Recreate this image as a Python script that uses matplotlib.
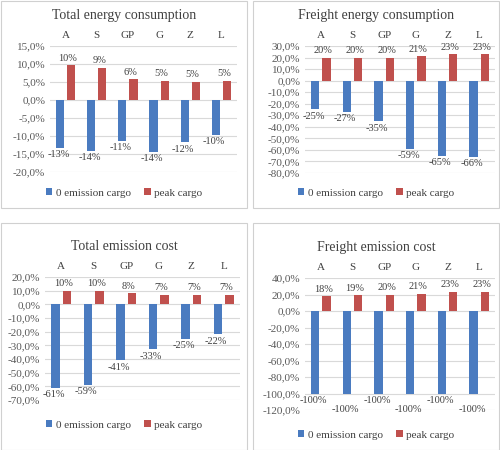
import matplotlib
matplotlib.use("Agg")
import matplotlib.pyplot as plt
from matplotlib.patches import Rectangle
from matplotlib.ticker import FuncFormatter
import numpy as np

plt.rcParams['font.family'] = ['Liberation Serif', 'DejaVu Serif']

categories = ["A", "S", "GP", "G", "Z", "L"]
series_names = ["0 emission cargo", "peak cargo"]

titles = ["Total energy consumption", "Freight energy consumption",
          "Total emission cost", "Freight emission cost"]
zero_vals = [
    [-13.3, -14.1, -11.3, -14.4, -11.8, -9.7],
    [-24.6, -27.0, -35.0, -59.0, -65.0, -66.0],
    [-61.0, -59.0, -41.0, -33.0, -25.0, -22.0],
    [-100, -100, -100, -100, -100, -100],
]
peak_vals = [
    [9.6, 8.9, 5.8, 5.3, 5.1, 5.3],
    [19.6, 20.0, 20.0, 21.0, 23.0, 23.0],
    [10.0, 10.0, 8.0, 7.0, 7.0, 7.0],
    [18.0, 19.0, 20.0, 21.0, 23.0, 23.0],
]
y_ranges = [(-20, 15, 5), (-80, 30, 10), (-70, 20, 10), (-120, 40, 20)]

BLUE = "#4a7bc0"
RED = "#c0504d"
W, H = 500, 450
fig = plt.figure(figsize=(W/100, H/100), dpi=100)

panels = [
    dict(box=(0, 0, 248, 208), plot=(50, 46, 237, 172), title_y=15, leg_y=193),
    dict(box=(252, 0, 500, 208), plot=(305, 46, 495, 173), title_y=15, leg_y=193),
    dict(box=(0, 222, 248, 450), plot=(45, 277, 240, 400), title_y=247, leg_y=425),
    dict(box=(252, 222, 500, 450), plot=(305, 278, 495, 410), title_y=247, leg_y=435),
]

fmt = FuncFormatter(lambda v, p: f"{v:.1f}%".replace(".", ","))
x = np.arange(len(categories))
bw = 0.26
for i, pn in enumerate(panels):
    bx0, by0, bx1, by1 = pn["box"]
    fig.patches.append(Rectangle((bx0/W + 0.001, 1 - by1/H + 0.001), (bx1-bx0)/W - 0.003, (by1-by0)/H - 0.003,
                                 transform=fig.transFigure, fill=False, edgecolor="#d0d0d0", lw=0.8))
    px0, py0, px1, py1 = pn["plot"]
    ax = fig.add_axes([px0/W, 1 - py1/H, (px1-px0)/W, (py1-py0)/H])
    lo, hi, st = y_ranges[i]
    ax.set_ylim(lo, hi)
    ax.set_yticks(np.arange(lo, hi + st/2, st))
    ax.yaxis.set_major_formatter(fmt)
    ax.grid(axis="y", color="#d9d9d9", lw=0.8)
    ax.set_axisbelow(True)
    b1 = ax.bar(x - 0.18, zero_vals[i], bw, color=BLUE, label=series_names[0])
    b2 = ax.bar(x + 0.18, peak_vals[i], bw, color=RED, label=series_names[1])
    span = hi - lo
    for k, (xi, v) in enumerate(zip(x, zero_vals[i])):
        off = span*0.02 + (span*0.07 if (i == 3 and k % 2 == 1) else 0)
        ax.text(xi - 0.18 - 0.05, v - off, f"{round(v):.0f}%", ha="center", va="top", fontsize=7.5, color="#404040")
    for xi, v in zip(x, peak_vals[i]):
        ax.text(xi + 0.18 - 0.1, v + span*0.02, f"{round(v):.0f}%", ha="center", va="bottom", fontsize=7.5, color="#404040")
    ax.set_xlim(-0.5, len(categories) - 0.5)
    ax.xaxis.tick_top()
    ax.set_xticks(x)
    ax.set_xticklabels(categories)
    ax.tick_params(axis="x", length=0, labelsize=8, colors="#404040", pad=4)
    ax.tick_params(axis="y", length=0, labelsize=8, colors="#595959")
    for s in ax.spines.values():
        s.set_visible(False)
    fig.text((bx0+bx1)/2/W, 1 - pn["title_y"]/H, titles[i], ha="center", va="center", fontsize=10, color="#404040")
    fig.legend(handles=[b1, b2], loc="center", bbox_to_anchor=((bx0+bx1)/2/W, 1 - pn["leg_y"]/H),
               ncol=2, frameon=False, fontsize=8, handlelength=0.6, handleheight=0.6, columnspacing=1.2,
               handletextpad=0.3, labelcolor="#404040")

fig.savefig("out.png", dpi=100)
